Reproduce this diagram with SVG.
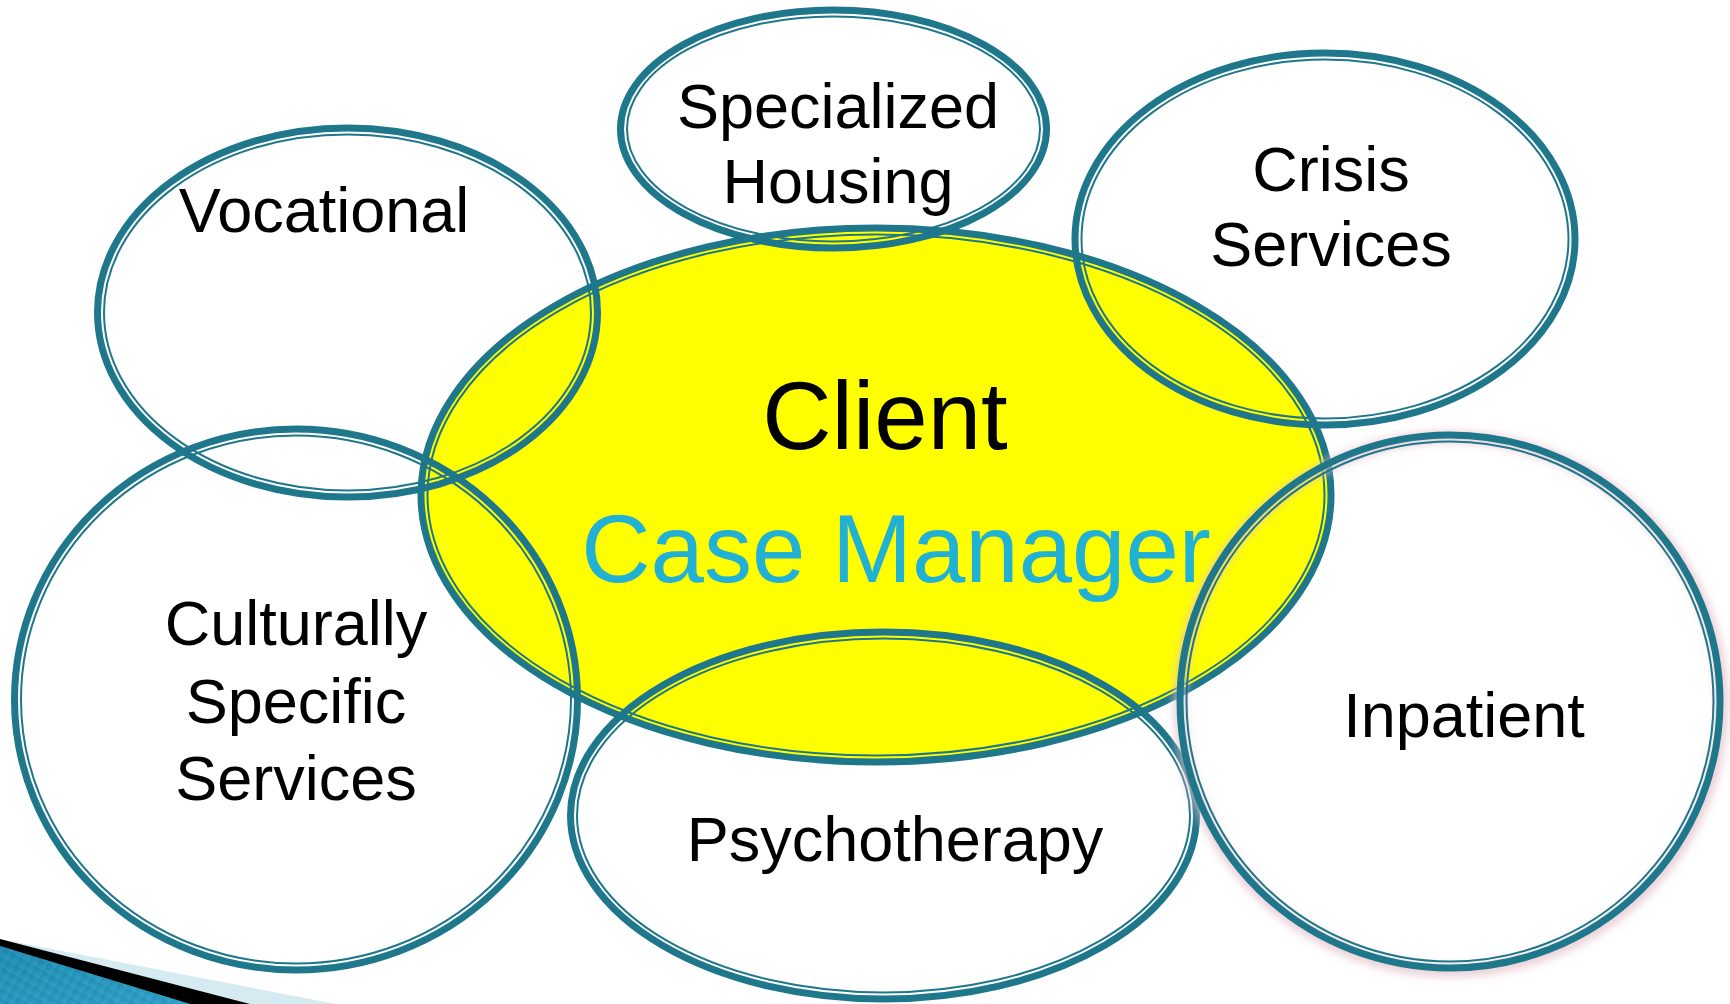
<svg xmlns="http://www.w3.org/2000/svg" width="1730" height="1004" viewBox="0 0 1730 1004">
  <style>
    .thick { fill: none; stroke: #1E778B; stroke-width: 7; }
    .thin { fill: none; stroke: #1E778B; stroke-width: 2; }
    .label { font-family: "Liberation Sans", Arial, sans-serif; font-size: 63px; fill: #000; text-anchor: middle; }
    .big { font-family: "Liberation Sans", Arial, sans-serif; font-size: 96px; text-anchor: middle; }
  </style>
  <defs>
    <filter id="glow" x="-10%" y="-10%" width="120%" height="120%">
      <feGaussianBlur stdDeviation="4"/>
    </filter>
    <linearGradient id="barBlue" x1="0" y1="0" x2="1" y2="1">
      <stop offset="0" stop-color="#167FA3"/>
      <stop offset="1" stop-color="#3AAAD2"/>
    </linearGradient>
    <pattern id="stripes" width="9" height="9" patternUnits="userSpaceOnUse" patternTransform="rotate(30)">
      <rect width="9" height="9" fill="url(#barBlue)"/>
      <line x1="0" y1="0" x2="0" y2="9" stroke="#5BB8DA" stroke-opacity="0.35" stroke-width="2"/>
    </pattern>
  </defs>

  <rect width="1730" height="1004" fill="#FFFFFF"/>

  <!-- corner accent bar -->
  <g id="corner-bar">
    <polygon points="0,939 336,1004 0,1004" fill="#D6EAF2"/>
    <polygon points="0,939 250,1004 0,1004" fill="#000000"/>
    <polygon points="0,946 190,1004 0,1004" fill="url(#barBlue)"/>
    <polygon points="0,946 190,1004 0,1004" fill="url(#stripes)" opacity="0.6"/>
  </g>

  <!-- central node -->
  <g id="client">
    <ellipse cx="876" cy="495" rx="455" ry="267" fill="#FFFF00"/>
    <ellipse class="thick" cx="876" cy="495" rx="455" ry="267"/>
    <ellipse class="thin" cx="876" cy="495" rx="448.5" ry="260.5"/>
    <text class="big" x="885" y="449" fill="#000000">Client</text>
    <text class="big" x="896" y="582" fill="#21B1D4">Case Manager</text>
  </g>

  <g id="specialized-housing">
    <ellipse class="thick" cx="833.5" cy="129" rx="213" ry="119"/>
    <ellipse class="thin" cx="833.5" cy="129" rx="206.5" ry="112.5"/>
    <text class="label" x="838" y="128">Specialized</text>
    <text class="label" x="838" y="203">Housing</text>
  </g>

  <g id="crisis-services">
    <ellipse class="thick" cx="1325" cy="239" rx="250" ry="186"/>
    <ellipse class="thin" cx="1325" cy="239" rx="243.5" ry="179.5"/>
    <text class="label" x="1331" y="191">Crisis</text>
    <text class="label" x="1331" y="266">Services</text>
  </g>

  <g id="vocational">
    <ellipse class="thick" cx="347.5" cy="312.5" rx="250" ry="184.5"/>
    <ellipse class="thin" cx="347.5" cy="312.5" rx="243.5" ry="178"/>
    <text class="label" x="324" y="232">Vocational</text>
  </g>

  <g id="culturally-specific-services">
    <ellipse class="thick" cx="296" cy="699.5" rx="281.5" ry="270.5"/>
    <ellipse class="thin" cx="296" cy="699.5" rx="275" ry="264"/>
    <text class="label" x="296" y="645">Culturally</text>
    <text class="label" x="296" y="723">Specific</text>
    <text class="label" x="296" y="800">Services</text>
  </g>

  <g id="psychotherapy">
    <ellipse class="thick" cx="883.5" cy="815.5" rx="313" ry="183.5"/>
    <ellipse class="thin" cx="883.5" cy="815.5" rx="306.5" ry="177"/>
    <text class="label" x="895" y="861">Psychotherapy</text>
  </g>

  <g id="inpatient">
    <ellipse cx="1451" cy="704" rx="271" ry="267" fill="none" stroke="#E3BFC9" stroke-width="12" opacity="0.75" filter="url(#glow)"/>
    <ellipse class="thick" cx="1450" cy="701.5" rx="270" ry="266.5"/>
    <ellipse class="thin" cx="1450" cy="701.5" rx="263.5" ry="260"/>
    <text class="label" x="1464" y="737">Inpatient</text>
  </g>

  <g id="connectors"></g>
</svg>
